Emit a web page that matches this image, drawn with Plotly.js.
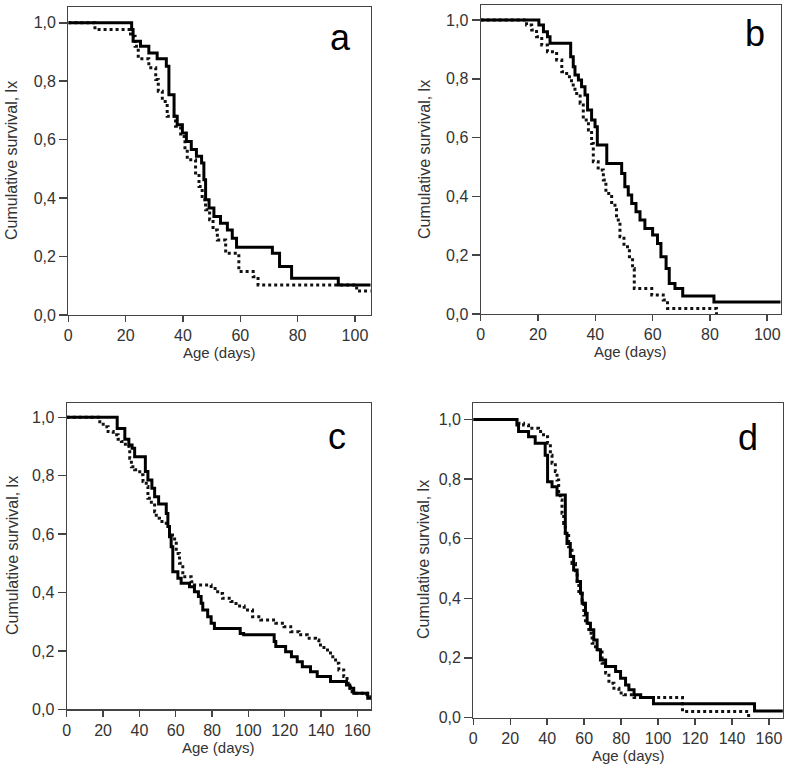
<!DOCTYPE html>
<html>
<head>
<meta charset="utf-8">
<script src="https://cdn.plot.ly/plotly-3.0.1.min.js"></script>
<style>html,body{margin:0;padding:0;background:#fff;}#chart{width:787px;height:780px;}</style>
</head>
<body>
<div id="chart"></div>
<script>
// Panel a
const aSolidDays = [0,22.1,22.6,25.2,28.1,31.0,34.2,35.1,36.9,38.0,39.8,41.2,42.9,44.7,46.5,47.3,47.9,49.1,50.8,53.1,55.5,57.2,58.7,71.2,73.7,77.9,94.2,105.5];
const aSolidSurv = [1,0.977,0.937,0.92,0.897,0.877,0.851,0.754,0.68,0.651,0.623,0.594,0.566,0.543,0.52,0.463,0.394,0.366,0.337,0.314,0.291,0.263,0.232,0.211,0.166,0.126,0.103,0.103];
const aDotDays = [0,9.3,21.7,23.3,24.4,28.1,30.5,31.4,32.8,34.5,37.4,39.2,40.7,41.5,44.4,45.6,46.7,47.9,49.3,50.5,52.0,54.9,59.5,64.5,66.2,100.6,105.5];
const aDotSurv = [1,0.977,0.954,0.92,0.877,0.846,0.806,0.766,0.731,0.68,0.646,0.611,0.566,0.531,0.486,0.44,0.394,0.36,0.326,0.291,0.257,0.211,0.149,0.131,0.103,0.082,0.082];
// Panel b
const bSolidDays = [0,20.3,21.9,23.3,24.2,31.4,32.3,32.9,34.1,35.2,36.4,37.3,38.7,39.9,40.7,44.0,49.2,50.3,51.5,52.7,54.2,55.6,57.3,60.0,61.7,62.9,64.7,65.8,67.8,70.5,81.4,104.7];
const bSolidSurv = [1,0.983,0.96,0.943,0.921,0.875,0.841,0.813,0.796,0.773,0.745,0.694,0.66,0.637,0.575,0.512,0.478,0.433,0.405,0.376,0.348,0.32,0.291,0.269,0.24,0.195,0.155,0.104,0.087,0.061,0.041,0.041];
const bDotDays = [0,16.0,17.8,19.5,21.3,23.3,26.5,28.3,30.0,31.7,32.9,34.7,35.8,37.6,38.7,39.3,41.0,42.8,43.7,45.7,47.4,48.6,50.0,51.9,53.0,53.6,59.7,63.7,65.2,82.3];
const bDotSurv = [1,0.983,0.966,0.943,0.915,0.892,0.864,0.824,0.807,0.779,0.75,0.717,0.66,0.626,0.58,0.518,0.49,0.456,0.41,0.37,0.32,0.263,0.229,0.195,0.155,0.087,0.065,0.048,0.019,0];
// Panel c
const cSolidDays = [0,27.8,32.0,34.2,36.0,37.4,43.3,44.7,46.9,48.4,50.6,54.8,55.7,56.6,57.5,58.4,61.2,63.0,67.6,70.3,72.5,74.0,74.9,77.6,79.5,81.3,95.5,97.4,114.2,115.1,120.5,123.7,126.9,129.7,134.2,137.9,145.2,154.0,155.8,158.0,165.7,167.5];
const cSolidSurv = [1,0.962,0.925,0.905,0.894,0.865,0.814,0.785,0.757,0.728,0.703,0.671,0.626,0.591,0.557,0.471,0.449,0.432,0.42,0.403,0.386,0.363,0.34,0.317,0.295,0.277,0.26,0.255,0.232,0.215,0.197,0.18,0.163,0.146,0.129,0.112,0.095,0.083,0.072,0.055,0.038,0.038];
const cDotDays = [0,17.4,20.1,22.8,25.6,28.3,30.1,32.3,34.7,35.6,37.4,40.2,42.0,43.8,44.7,46.6,48.4,49.3,51.1,54.8,56.6,59.4,60.3,62.1,63.9,68.5,70.3,79.5,83.1,85.8,90.4,93.2,97.7,102.3,106.8,115.1,119.6,123.3,127.9,132.4,137.0,138.8,141.6,145.2,148.0,149.8,152.5,154.3,156.2,157.1,158.9,165.3,167.5];
const cDotSurv = [1,0.985,0.968,0.951,0.94,0.925,0.917,0.9,0.86,0.831,0.82,0.803,0.78,0.763,0.723,0.7,0.677,0.654,0.643,0.626,0.597,0.574,0.534,0.5,0.454,0.437,0.426,0.414,0.397,0.38,0.369,0.354,0.34,0.317,0.306,0.295,0.283,0.266,0.255,0.243,0.237,0.22,0.203,0.18,0.158,0.135,0.112,0.089,0.072,0.06,0.055,0.043,0.043];
// Panel d
const dSolidDays = [0,23.6,24.5,29.9,33.5,38.9,40.2,42.6,45.3,49.8,50.7,52.5,54.3,56.2,58.0,58.9,60.7,61.6,63.4,65.2,67.0,68.8,71.6,77.0,79.7,82.4,84.2,87.0,90.6,97.5,152.2,167.5];
const dSolidSurv = [1,0.981,0.959,0.942,0.92,0.88,0.791,0.774,0.746,0.618,0.584,0.54,0.495,0.456,0.417,0.383,0.35,0.316,0.294,0.26,0.227,0.193,0.171,0.154,0.132,0.109,0.093,0.076,0.067,0.046,0.022,0.022];
const dDotDays = [0,24.5,27.2,29.9,35.3,38.0,40.2,41.7,42.6,44.4,45.3,46.2,47.1,48.0,48.9,49.8,51.6,53.4,55.3,56.2,57.1,58.9,59.8,60.7,62.5,64.3,66.1,69.7,71.6,73.4,76.1,78.8,81.5,87.0,113.2,149.0];
const dDotSurv = [1,0.987,0.981,0.97,0.959,0.942,0.92,0.88,0.853,0.825,0.797,0.758,0.73,0.685,0.651,0.618,0.573,0.517,0.484,0.45,0.417,0.383,0.344,0.316,0.283,0.249,0.227,0.182,0.149,0.115,0.098,0.082,0.076,0.067,0.02,0];

const panelLetters = ['a','b','c','d'];
const xTicksShort = [0,20,40,60,80,100];
const xTicksLong = [0,20,40,60,80,100,120,140,160];
const yTicks = [0,0.2,0.4,0.6,0.8,1.0];
const xTitle = 'Age (days)';
const yTitle = 'Cumulative survival, lx';

const W = 787, H = 780;
const px = v => v / W;
const py = v => 1 - v / H;
const FONT = 'Liberation Sans, Arial, sans-serif';

function solid(x, y, xa, ya) {
  return {x: x, y: y, xaxis: xa, yaxis: ya, type: 'scatter', mode: 'lines',
    line: {shape: 'hv', color: '#000', width: 3}, hoverinfo: 'skip', showlegend: false};
}
function dotted(x, y, xa, ya) {
  return {x: x, y: y, xaxis: xa, yaxis: ya, type: 'scatter', mode: 'lines',
    line: {shape: 'hv', color: '#111', width: 3, dash: 'dot'}, hoverinfo: 'skip', showlegend: false};
}

const data = [
  dotted(aDotDays, aDotSurv, 'x', 'y'), solid(aSolidDays, aSolidSurv, 'x', 'y'),
  dotted(bDotDays, bDotSurv, 'x2', 'y2'), solid(bSolidDays, bSolidSurv, 'x2', 'y2'),
  dotted(cDotDays, cDotSurv, 'x3', 'y3'), solid(cSolidDays, cSolidSurv, 'x3', 'y3'),
  dotted(dDotDays, dDotSurv, 'x4', 'y4'), solid(dSolidDays, dSolidSurv, 'x4', 'y4')
];

function xax(dom, rng, ticks, anchor) {
  return {domain: dom, range: rng, anchor: anchor, tickvals: ticks, ticktext: ticks.map(String),
    showline: true, mirror: true, linecolor: '#444', linewidth: 1.2,
    ticks: 'outside', ticklen: 6, tickwidth: 1.5, tickcolor: '#444',
    showgrid: false, zeroline: false, fixedrange: true,
    tickfont: {family: FONT, size: 16, color: '#333'}};
}
function yax(dom, rng, anchor) {
  return {domain: dom, range: rng, anchor: anchor, tickvals: yTicks,
    tickformat: '.1f', showline: true, mirror: true, linecolor: '#444', linewidth: 1.2,
    ticks: 'outside', ticklen: 8, tickwidth: 1.5, tickcolor: '#444',
    showgrid: false, zeroline: false, fixedrange: true,
    tickfont: {family: FONT, size: 16, color: '#333'}};
}

function label(text, x, y, size, color, rot) {
  return {text: text, x: px(x), y: py(y), xref: 'paper', yref: 'paper', xanchor: 'center', yanchor: 'middle',
    showarrow: false, textangle: rot || 0, font: {family: FONT, size: size, color: color}};
}

const layout = {
  width: W, height: H, margin: {l: 0, r: 0, t: 0, b: 0},
  paper_bgcolor: '#fff', plot_bgcolor: '#fff',
  separators: ', ', showlegend: false,
  font: {family: FONT, color: '#333'},
  xaxis: xax([px(68.3), px(370.7)], [0, 105.5], xTicksShort, 'y'),
  yaxis: yax([py(315), py(7.3)], [0, 1.053], 'x'),
  xaxis2: xax([px(480.7), px(780.7)], [0, 104.7], xTicksShort, 'y2'),
  yaxis2: yax([py(314), py(5)], [0, 1.051], 'x2'),
  xaxis3: xax([px(66.7), px(371)], [0, 167.5], xTicksLong, 'y3'),
  yaxis3: yax([py(709.3), py(403.3)], [0, 1.048], 'x3'),
  xaxis4: xax([px(473.3), px(783)], [0, 167.6], xTicksLong, 'y4'),
  yaxis4: yax([py(717.5), py(403.3)], [0, 1.054], 'x4'),
  annotations: [
    label(panelLetters[0], 340.7, 37, 36, '#000'),
    label(panelLetters[1], 755, 34, 36, '#000'),
    label(panelLetters[2], 337, 436, 36, '#000'),
    label(panelLetters[3], 748, 437, 36, '#000'),
    label(xTitle, 219.5, 353, 15, '#333'),
    label(xTitle, 630.7, 352, 15, '#333'),
    label(xTitle, 218.9, 747, 15, '#333'),
    label(xTitle, 628.2, 755.5, 15, '#333'),
    label(yTitle, 12, 161, 16, '#333', -90),
    label(yTitle, 425, 160, 16, '#333', -90),
    label(yTitle, 12, 556, 16, '#333', -90),
    label(yTitle, 423, 560, 16, '#333', -90)
  ]
};

Plotly.newPlot('chart', data, layout, {displayModeBar: false, staticPlot: true});
</script>
</body>
</html>
